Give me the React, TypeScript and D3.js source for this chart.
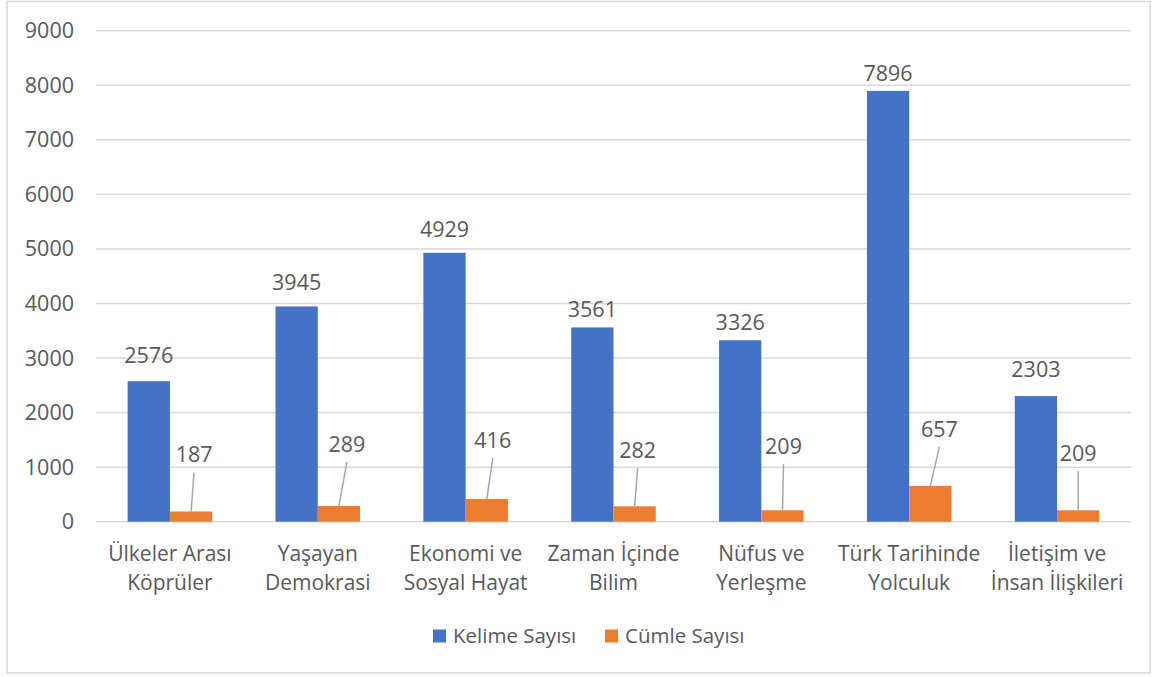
import { useEffect, useRef } from "react";
import * as d3 from "d3";

const categories = [
  ["Ülkeler Arası", "Köprüler"],
  ["Yaşayan", "Demokrasi"],
  ["Ekonomi ve", "Sosyal Hayat"],
  ["Zaman İçinde", "Bilim"],
  ["Nüfus ve", "Yerleşme"],
  ["Türk Tarihinde", "Yolculuk"],
  ["İletişim ve", "İnsan İlişkileri"],
];
const kelime = [2576, 3945, 4929, 3561, 3326, 7896, 2303];
const cumle = [187, 289, 416, 282, 209, 657, 209];
const yTicks = [0, 1000, 2000, 3000, 4000, 5000, 6000, 7000, 8000, 9000];
const seriesNames = ["Kelime Sayısı", "Cümle Sayısı"];

// label placement as it was dragged in the original chart
const kelimeGap = [18, 16, 16, 10, 10, 10, 19];
const cumleDx = [3, 8, 6, 3, 1, 9, 0];
const cumleDy = [-57, -62, -59, -56, -64, -57, -57];

const BLUE = "#4472C4";
const ORANGE = "#ED7D31";
const TEXT = "#595959";
const GRID = "#d9d9d9";

const App = () => {
  const ref = useRef<SVGSVGElement | null>(null);

  useEffect(() => {
    const width = 1157;
    const height = 677;
    const left = 96;
    const right = 1131;
    const top = 30.7;
    const bottom = 521.7;
    const font = "'Open Sans', 'Noto Sans', sans-serif";

    const svg = d3.select(ref.current);
    svg.selectAll("*").remove();
    svg.attr("width", width).attr("height", height);

    // chart border
    svg
      .append("rect")
      .attr("x", 7)
      .attr("y", 1.5)
      .attr("width", 1143)
      .attr("height", 671.5)
      .attr("fill", "white")
      .attr("stroke", GRID)
      .attr("stroke-width", 1.5);

    const x = d3
      .scaleBand<number>()
      .domain(d3.range(categories.length))
      .range([left, right])
      .paddingInner(0.428)
      .paddingOuter(0.214);
    const bw = x.bandwidth() / 2;

    const y = d3.scaleLinear().domain([0, 9000]).range([bottom, top]);

    // gridlines
    svg
      .append("g")
      .selectAll("line")
      .data(yTicks)
      .enter()
      .append("line")
      .attr("x1", left)
      .attr("x2", right)
      .attr("y1", (d) => y(d))
      .attr("y2", (d) => y(d))
      .attr("stroke", GRID)
      .attr("stroke-width", 1.5);

    // y tick labels
    svg
      .append("g")
      .selectAll("text")
      .data(yTicks)
      .enter()
      .append("text")
      .attr("x", 74)
      .attr("y", (d) => y(d) + 7.5)
      .attr("text-anchor", "end")
      .attr("fill", TEXT)
      .style("font-family", font)
      .style("font-size", "21.5px")
      .text((d) => d);

    // bars
    svg
      .append("g")
      .selectAll("rect")
      .data(kelime)
      .enter()
      .append("rect")
      .attr("x", (_, i) => x(i)!)
      .attr("y", (d) => y(d))
      .attr("width", bw)
      .attr("height", (d) => bottom - y(d))
      .attr("fill", BLUE);

    svg
      .append("g")
      .selectAll("rect")
      .data(cumle)
      .enter()
      .append("rect")
      .attr("x", (_, i) => x(i)! + bw)
      .attr("y", (d) => y(d))
      .attr("width", bw)
      .attr("height", (d) => bottom - y(d))
      .attr("fill", ORANGE);

    // blue value labels
    svg
      .append("g")
      .selectAll("text")
      .data(kelime)
      .enter()
      .append("text")
      .attr("x", (_, i) => x(i)! + bw / 2)
      .attr("y", (d, i) => y(d) - kelimeGap[i])
      .attr("text-anchor", "middle")
      .attr("fill", TEXT)
      .style("font-family", font)
      .style("font-size", "21.5px")
      .text((d) => d);

    // orange value labels with leader lines
    const cg = svg.append("g");
    cumle.forEach((d, i) => {
      const cx = x(i)! + bw * 1.5;
      const lx = cx + cumleDx[i];
      const ly = y(d) + cumleDy[i];
      cg.append("line")
        .attr("x1", lx)
        .attr("y1", ly + 18)
        .attr("x2", cx)
        .attr("y2", y(d))
        .attr("stroke", "#a6a6a6")
        .attr("stroke-width", 1.5);
      cg.append("text")
        .attr("x", lx)
        .attr("y", ly + 8)
        .attr("text-anchor", "middle")
        .attr("fill", TEXT)
        .style("font-family", font)
        .style("font-size", "21.5px")
        .text(d);
    });

    // category labels
    const xg = svg.append("g");
    categories.forEach((lines, i) => {
      lines.forEach((t, j) => {
        xg.append("text")
          .attr("x", x(i)! + x.bandwidth() / 2)
          .attr("y", 561 + j * 28.5)
          .attr("text-anchor", "middle")
          .attr("fill", TEXT)
          .style("font-family", font)
          .style("font-size", "21px")
          .text(t);
      });
    });

    // legend
    const legendX = [433, 605];
    const colors = [BLUE, ORANGE];
    const lg = svg.append("g");
    seriesNames.forEach((name, i) => {
      lg.append("rect")
        .attr("x", legendX[i])
        .attr("y", 629.5)
        .attr("width", 13)
        .attr("height", 13)
        .attr("fill", colors[i]);
      lg.append("text")
        .attr("x", legendX[i] + 20)
        .attr("y", 643)
        .attr("fill", TEXT)
        .style("font-family", font)
        .style("font-size", "20.5px")
        .text(name);
    });
  }, []);

  return (
    <svg
      ref={ref}
      style={{ position: "absolute", left: 0, top: 0, display: "block" }}
    ></svg>
  );
};

export default App;
